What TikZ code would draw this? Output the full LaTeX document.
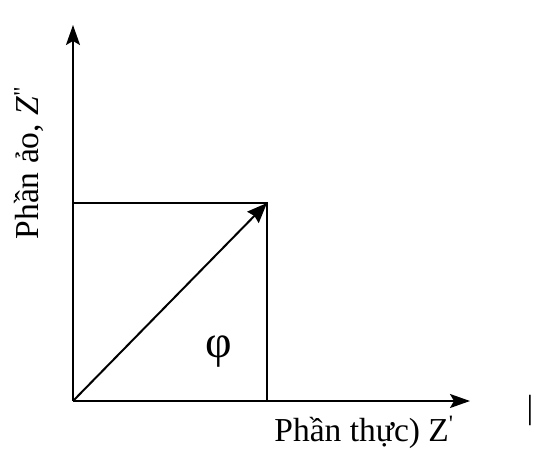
\documentclass[tikz,border=0pt]{standalone}
\usepackage{fontspec}
\setmainfont{Liberation Serif}
\usetikzlibrary{arrows.meta, positioning}

\begin{document}
\begin{tikzpicture}[
    x=1pt, y=-1pt,
    axis/.style={-{Stealth[length=20pt, width=14pt, inset=4pt]}, line width=2pt, color=black},
    vect/.style={-{Stealth[length=20pt, width=16pt, inset=2pt]}, line width=2pt, color=black},
    frame/.style={line width=2pt, color=black},
    lbl/.style={font=\fontsize{33.5}{38}\selectfont, inner sep=0pt}
]
\useasboundingbox (0,0) rectangle (547,448);
\coordinate (origin) at (73,401);
\coordinate (ytop) at (73,25);
\coordinate (xend) at (470,401);
\coordinate (tl) at (73,203);
\coordinate (tr) at (267,203);
\coordinate (br) at (267,401);
\draw[frame] (tl) -- (tr) -- (br);
\draw[axis] (origin) -- (ytop);
\draw[axis] (origin) -- (xend);
\draw[vect] (origin) -- (tr);
\node[lbl, font=\fontsize{46}{50}\selectfont] (phi) at (219,352) {φ};
\node[lbl, rotate=90, anchor=south] (imag) at (44,163) {Phần ảo, \textit{Z}\textsuperscript{\textquotedbl}};
\node[lbl, anchor=base] (real) at (364,441) {Phần thực) Z\textsuperscript{\textquotesingle}};
\node[lbl] (bar) at (530,410) {|};
\end{tikzpicture}
\end{document}
